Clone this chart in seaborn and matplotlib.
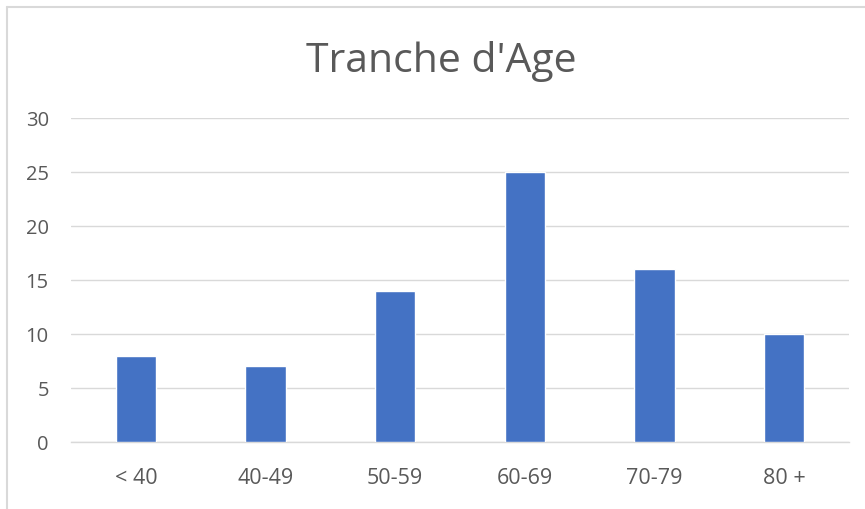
import matplotlib
matplotlib.use("Agg")
import matplotlib.pyplot as plt
import seaborn as sns
from matplotlib.lines import Line2D

# données
tranches = ["< 40", "40-49", "50-59", "60-69", "70-79", "80 +"]
effectifs = [8, 7, 14, 25, 16, 10]

sns.set_style("white")
plt.rcParams["font.family"] = ["Open Sans", "DejaVu Sans"]

W, H = 865, 509
fig = plt.figure(figsize=(W / 100, H / 100), dpi=100)
ax = fig.add_axes([71 / W, 1 - 442 / H, (849 - 71) / W, (442 - 118) / H])

sns.barplot(x=tranches, y=effectifs, color="#4472c4", width=0.31,
            saturation=1, ax=ax, zorder=3)

ax.set_ylim(0, 30)
ax.set_xlim(-0.5, len(tranches) - 0.5)
ax.set_yticks(range(0, 31, 5))
ax.yaxis.grid(True, color="#d9d9d9", linewidth=1.0, zorder=0)
ax.set_axisbelow(True)
for s in ["top", "right", "left"]:
    ax.spines[s].set_visible(False)
ax.spines["bottom"].set_color("#d9d9d9")
ax.spines["bottom"].set_linewidth(1.0)
ax.tick_params(axis="y", length=0, pad=16, labelsize=14.5, labelcolor="#595959")
ax.tick_params(axis="x", length=0, pad=19, labelsize=15.5, labelcolor="#595959")
ax.set_xlabel("")
ax.set_ylabel("")

# titre
fig.text(441 / W, 1 - 61 / H, "Tranche d'Age", ha="center", va="center",
         fontsize=29.5, color="#595959")

# cadre du graphique
fig.add_artist(Line2D([7 / W, 7 / W], [0, 1 - 6.5 / H], transform=fig.transFigure,
                      color="#d9d9d9", linewidth=1.5))
fig.add_artist(Line2D([7 / W, 1], [1 - 6.5 / H, 1 - 6.5 / H], transform=fig.transFigure,
                      color="#d9d9d9", linewidth=1.5))

fig.savefig("out.png", dpi=100, facecolor="white")
